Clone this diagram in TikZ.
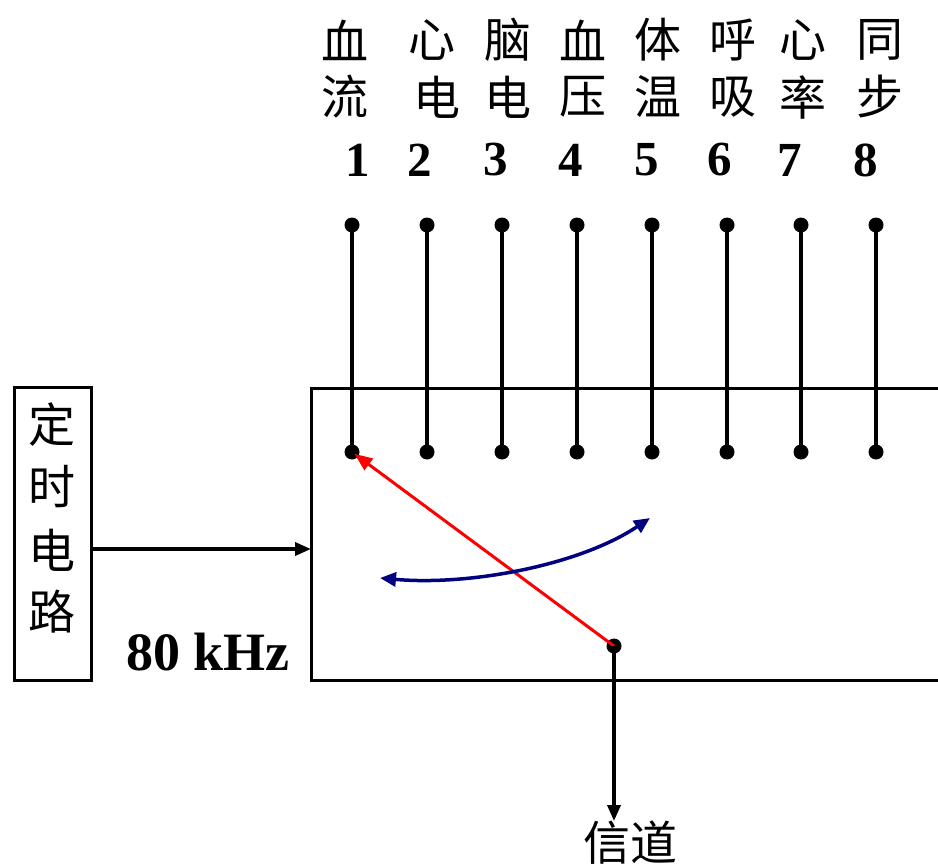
\documentclass[tikz,border=0pt]{standalone}
\usepackage{fontspec}
\setmainfont{Liberation Serif}
\newfontfamily\cjk{Noto Sans CJK SC}
\usetikzlibrary{arrows.meta}
\begin{document}
\begin{tikzpicture}[x=1pt,y=-1pt,
  dot/.style={circle,fill=black,inner sep=0pt,minimum size=15pt},
  wire/.style={line width=3.5pt},
  cjklbl/.style={font=\cjk\fontsize{47}{47}\selectfont,inner sep=0pt},
  numlbl/.style={font=\bfseries\fontsize{49}{49}\selectfont,inner sep=0pt},
  tip/.style={-{Triangle[length=16pt,width=13pt]}}]
\useasboundingbox (0,0) rectangle (938,867);
\fill[white] (0,0) rectangle (938,867);
% switch box (open at right)
\draw[line width=3pt] (945,388) coordinate (br1) -- (311,388) -- (311,680) -- (945,680);
% timing box
\node[draw,line width=3pt,minimum width=77pt,minimum height=293pt,inner sep=0pt] (timer) at (52.5,533.5) {};
\foreach \c/\y in {定/425,时/487,电/550,路/612}
  \node[cjklbl] at (52,\y) {\c};
\coordinate (boxin) at (311,549);
\draw[wire,tip] (timer.east |- boxin) -- (boxin);
\node[numlbl,font=\bfseries\fontsize{54}{54}\selectfont] (freq) at (208,652) {80 kHz};
% channels
\foreach \i/\x in {1/352,2/427,3/502,4/577,5/652,6/727,7/801,8/876}{
  \node[dot] (t\i) at (\x,225) {};
  \node[dot] (b\i) at (\x,452) {};
  \draw[wire] (t\i.center) -- (b\i.center);
}
% labels
\foreach \c/\x in {血/345,心/432,脑/508,血/583,体/658,呼/733,心/803,同/880}
  \node[cjklbl] at (\x,40) {\c};
\foreach \c/\x in {流/345,电/437,电/508,压/583,温/658,吸/733,率/803,步/880}
  \node[cjklbl] at (\x,97) {\c};
\foreach \n/\x in {1/358,2/420,3/496,4/571,5/647,6/720,7/790,8/866}
  \node[numlbl] at (\x,160) {\n};
% rotor
\node[dot] (rot) at (614,646) {};
\draw[red,line width=3pt,-{Triangle[length=18pt,width=14pt]},shorten >=3pt] (rot.center) -- (b1.center);
\node[cjklbl] (chan) at (630,843) {信道};
\draw[wire,tip] (rot.center) -- (chan.north -| rot);
% rotation arrow
\coordinate (a1) at (380,578);
\coordinate (a2) at (650,518);
\draw[color={rgb,255:red,0;green,0;blue,128},line width=3.5pt,{Triangle[length=16pt,width=14pt]}-{Triangle[length=16pt,width=14pt]}]
  (a1) .. controls (470,586) and (580,565) .. (a2);
\end{tikzpicture}
\end{document}
